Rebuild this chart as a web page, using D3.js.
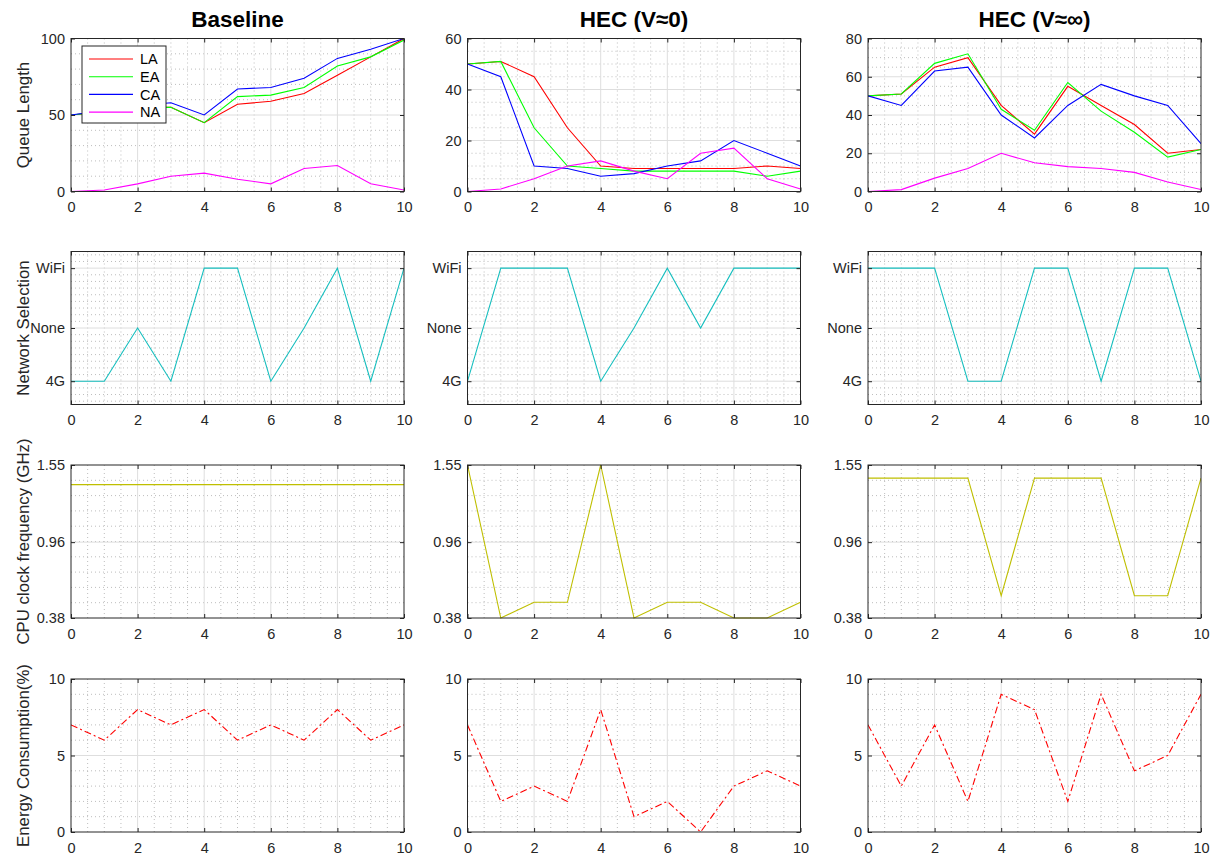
<!DOCTYPE html>
<html><head><meta charset="utf-8">
<script src="https://cdn.jsdelivr.net/npm/d3@7"></script>
<style>body{margin:0;background:#fff;} svg{display:block;font-family:"Liberation Sans",Arial,sans-serif;}</style>
</head><body><svg id="chart" width="1230" height="860"></svg>
<script>
// ---------- DATA ----------
const steps = [0,1,2,3,4,5,6,7,8,9,10];
const xTicks = [0,2,4,6,8,10];
const titles = ["Baseline", "HEC (V\u22480)", "HEC (V\u2248\u221E)"];
const rowLabels = ["Queue Length", "Network Selection", "CPU clock frequency (GHz)", "Energy Consumption(%)"];
const seriesNames = ["LA","EA","CA","NA"];

// Queue length
const baseLA = [50,52,55,55,45,57,59,64,76,88,100];
const baseEA = [50,52,55,55,45,62,63,68,82,88,99];
const baseCA = [50,53,56,58,50,67,68,74,87,93,100];
const baseNA = [0,1,5,10,12,8,5,15,17,5,1];
const hec0LA = [50,51,45,25,10,9,9,9,9,10,9];
const hec0EA = [50,51,25,10,9,8,8,8,8,6,8];
const hec0CA = [50,45,10,9,6,7,10,12,20,15,10];
const hec0NA = [0,1,5,10,12,8,5,15,17,5,1];
const hecInfLA = [50,51,65,70,45,30,55,45,35,20,22];
const hecInfEA = [50,51,67,72,43,32,57,42,31,18,22];
const hecInfCA = [50,45,63,65,40,28,45,56,50,45,25];
const hecInfNA = [0,1,7,12,20,15,13,12,10,5,1];
const queueTicks = [[0,50,100],[0,20,40,60],[0,20,40,60,80]];

// Network selection
const netLevels = ["4G","None","WiFi"];
const netLevelTicks = [0.2, 1.0, 1.9];
const baseNet = ["4G","4G","None","4G","WiFi","WiFi","4G","None","WiFi","4G","WiFi"];
const hec0Net = ["4G","WiFi","WiFi","WiFi","4G","None","WiFi","None","WiFi","WiFi","WiFi"];
const hecInfNet = ["WiFi","WiFi","WiFi","4G","4G","WiFi","WiFi","4G","WiFi","WiFi","4G"];

// CPU clock frequency (GHz)
const cpuTicks = [0.38, 0.96, 1.55];
const baseCpu = [1.40,1.40,1.40,1.40,1.40,1.40,1.40,1.40,1.40,1.40,1.40];
const hec0Cpu = [1.55,0.38,0.50,0.50,1.55,0.38,0.50,0.50,0.38,0.38,0.50];
const hecInfCpu = [1.45,1.45,1.45,1.45,0.55,1.45,1.45,1.45,0.55,0.55,1.45];

// Energy consumption (%)
const energyTicks = [0,5,10];
const baseEnergy = [7,6,8,7,8,6,7,6,8,6,7];
const hec0Energy = [7,2,3,2,8,1,2,0,3,4,3];
const hecInfEnergy = [7,3,7,2,9,8,2,9,4,5,9];

// ---------- STYLE / LAYOUT ----------
const queueColors = ["#ff0000","#00ff00","#0000ff","#ff00ff"];
const netColor = "#17bfbf";
const cpuColor = "#bfbf00";
const energyColor = "#ff0000";
const colLeft = [71, 467.5, 868];
const rowTop = [38.5, 251.5, 465, 679];
const W = 333, H = 153;
const axisColor = "#262626";
const tickFont = "14.5px";

const svg = d3.select("#chart");
let clipId = 0;

function range(a, b, s) { const out=[]; for (let v=a; v<=b+1e-9; v+=s) out.push(+v.toFixed(6)); return out; }

function panel(col, row, cfg) {
  const x0 = colLeft[col], y0 = rowTop[row];
  const x = d3.scaleLinear().domain([0,10]).range([x0, x0+W]);
  const y = d3.scaleLinear().domain(cfg.domain).range([y0+H, y0]);
  const g = svg.append("g");
  g.append("rect").attr("x",x0).attr("y",y0).attr("width",W).attr("height",H).attr("fill","#fff");
  // minor grid
  const xMinor = range(0.5, 9.5, 0.5).filter(v => !xTicks.includes(v));
  const yMinor = cfg.minor.filter(v => !cfg.ticks.some(t => Math.abs(t-v) < 1e-6));
  g.selectAll(".mx").data(xMinor).join("line")
    .attr("x1",d=>x(d)).attr("x2",d=>x(d)).attr("y1",y0).attr("y2",y0+H)
    .attr("stroke","#bdbdbd").attr("stroke-width",1).attr("stroke-dasharray","1,3");
  g.selectAll(".my").data(yMinor).join("line")
    .attr("x1",x0).attr("x2",x0+W).attr("y1",d=>y(d)).attr("y2",d=>y(d))
    .attr("stroke","#bdbdbd").attr("stroke-width",1).attr("stroke-dasharray","1,3");
  // major grid
  g.selectAll(".gx").data(xTicks.slice(1,-1)).join("line")
    .attr("x1",d=>x(d)).attr("x2",d=>x(d)).attr("y1",y0).attr("y2",y0+H)
    .attr("stroke","#dedede").attr("stroke-width",1);
  g.selectAll(".gy").data(cfg.ticks.filter(t => t>cfg.domain[0] && t<cfg.domain[1])).join("line")
    .attr("x1",x0).attr("x2",x0+W).attr("y1",d=>y(d)).attr("y2",d=>y(d))
    .attr("stroke","#dedede").attr("stroke-width",1);
  // lines
  const cid = "clip" + (clipId++);
  svg.append("clipPath").attr("id",cid).append("rect").attr("x",x0).attr("y",y0-1).attr("width",W).attr("height",H+2);
  const lg = g.append("g").attr("clip-path",`url(#${cid})`);
  const line = d3.line().x((d,i)=>x(steps[i])).y(d=>y(d));
  cfg.series.forEach(s => {
    lg.append("path").attr("d", line(s.values)).attr("fill","none")
      .attr("stroke", s.color).attr("stroke-width", 1.1)
      .attr("stroke-dasharray", s.dash || null);
  });
  // axes
  const fmt = cfg.labels ? (d => cfg.labels[cfg.ticks.indexOf(d)]) : d3.format("");
  const ax = [
    g.append("g").attr("transform",`translate(${x0},0)`).call(d3.axisLeft(y).tickValues(cfg.ticks).tickFormat(fmt).tickSizeInner(-4).tickSizeOuter(0).tickPadding(6)),
    g.append("g").attr("transform",`translate(${x0+W},0)`).call(d3.axisRight(y).tickValues(cfg.ticks).tickFormat("").tickSizeInner(-4).tickSizeOuter(0)),
    g.append("g").attr("transform",`translate(0,${y0+H})`).call(d3.axisBottom(x).tickValues(xTicks).tickFormat(d3.format("")).tickSizeInner(-4).tickSizeOuter(0).tickPadding(10.5)),
    g.append("g").attr("transform",`translate(0,${y0})`).call(d3.axisTop(x).tickValues(xTicks).tickFormat("").tickSizeInner(-4).tickSizeOuter(0))
  ];
  ax.forEach(a => {
    a.select(".domain").remove();
    a.selectAll("line").attr("stroke",axisColor);
    a.selectAll("text").attr("fill",axisColor).style("font-size",tickFont).style("font-family",'"Liberation Sans",Arial,sans-serif');
  });
  g.append("rect").attr("x",x0).attr("y",y0).attr("width",W).attr("height",H)
    .attr("fill","none").attr("stroke",axisColor).attr("stroke-width",1);
  return {x, y, g};
}

const queueData = [
  [baseLA, baseEA, baseCA, baseNA],
  [hec0LA, hec0EA, hec0CA, hec0NA],
  [hecInfLA, hecInfEA, hecInfCA, hecInfNA]
];
const netData = [baseNet, hec0Net, hecInfNet];
const cpuData = [baseCpu, hec0Cpu, hecInfCpu];
const energyData = [baseEnergy, hec0Energy, hecInfEnergy];

for (let c = 0; c < 3; c++) {
  const qt = queueTicks[c];
  const qmax = qt[qt.length-1];
  panel(c, 0, {
    domain: [0, qmax], ticks: qt, minor: range(0, qmax, c===0 ? 10 : 5),
    series: queueData[c].map((v,i) => ({values: v, color: queueColors[i]}))
  });
  panel(c, 1, {
    domain: [-0.15, 2.15], ticks: netLevelTicks, labels: netLevels, minor: range(-0.1, 2.1, 0.1),
    series: [{values: netData[c].map(n => netLevelTicks[netLevels.indexOf(n)]), color: netColor}]
  });
  panel(c, 2, {
    domain: [cpuTicks[0], cpuTicks[2]], ticks: cpuTicks, labels: cpuTicks.map(d=>d.toFixed(2)),
    minor: range(0, 10, 1).map(k => cpuTicks[0] + k*(cpuTicks[2]-cpuTicks[0])/10),
    series: [{values: cpuData[c], color: cpuColor}]
  });
  panel(c, 3, {
    domain: [0, 10], ticks: energyTicks, minor: range(0, 10, 1),
    series: [{values: energyData[c], color: energyColor, dash: "7,3,2,3"}]
  });
  // title
  svg.append("text").attr("x", colLeft[c] + W/2).attr("y", 27)
    .attr("text-anchor","middle").attr("font-weight","bold").style("font-size","22.5px")
    .attr("fill","#000").text(titles[c]);
}

// row labels
rowLabels.forEach((t, r) => {
  svg.append("text").attr("transform", `translate(29,${rowTop[r] + H/2}) rotate(-90)`)
    .attr("text-anchor","middle").style("font-size","16.8px").attr("fill",axisColor).text(t);
});

// legend
const lgX = 82, lgY = 46, lgW = 84, lgH = 77;
const leg = svg.append("g");
leg.append("rect").attr("x",lgX).attr("y",lgY).attr("width",lgW).attr("height",lgH)
  .attr("fill","#fff").attr("stroke",axisColor).attr("stroke-width",1);
seriesNames.forEach((n, i) => {
  const yy = lgY + 13 + i*17.7;
  leg.append("line").attr("x1", lgX+7).attr("x2", lgX+51).attr("y1", yy).attr("y2", yy)
    .attr("stroke", queueColors[i]).attr("stroke-width", 1.1);
  leg.append("text").attr("x", lgX+58).attr("y", yy).attr("dy","0.36em")
    .style("font-size","14.5px").attr("fill","#000").text(n);
});
</script></body></html>
